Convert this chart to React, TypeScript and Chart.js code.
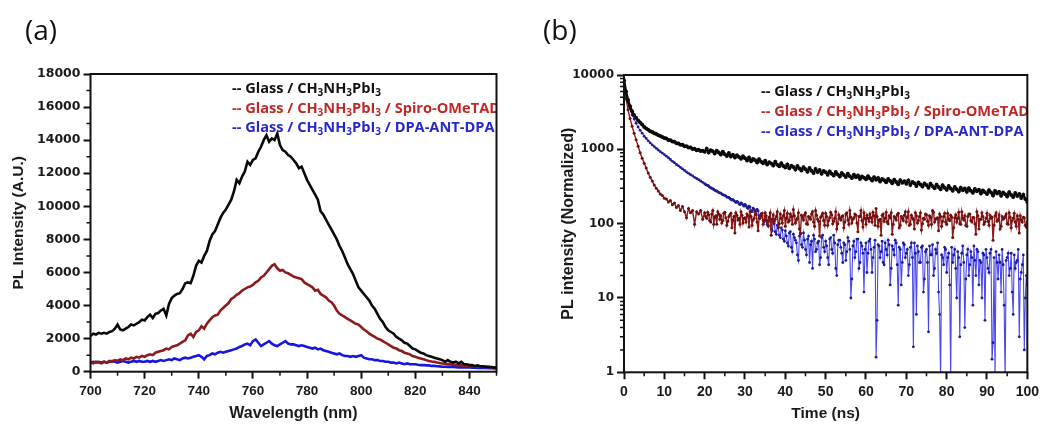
import React, { useEffect, useRef } from 'react';
import { Chart, registerables } from 'chart.js';

Chart.register(...registerables);

// ---------- Panel (a): steady-state PL ----------
const wavelengthNm: number[] = Array.from({ length: 151 }, (_, i) => 700 + i);

const plGlass: number[] = [
  2150, 2300, 2250, 2350, 2300, 2350, 2300, 2400, 2450, 2600,
  2850, 2550, 2500, 2600, 2700, 2850, 2800, 2900, 3000, 3150,
  3100, 3300, 3450, 3250, 3500, 3550, 3700, 3800, 3400, 4100,
  4450, 4600, 4700, 4750, 5000, 5350, 5400, 5350, 5800, 6400,
  6700, 6600, 7000, 7300, 7900, 8300, 8500, 8900, 9300, 9600,
  9800, 10100, 10400, 10900, 11600, 11400, 11800, 12100, 12700, 12500,
  12800, 12900, 13300, 13600, 14000, 14300, 13900, 14100, 14000, 14400,
  13700, 13400, 13300, 13100, 13000, 12800, 12600, 12300, 12400, 12000,
  11600, 11300, 11000, 10700, 10400, 9700, 9500, 9200, 8900, 8600,
  8300, 8000, 7600, 7300, 6900, 6500, 6200, 5900, 5500, 5100,
  4900, 4700, 4500, 4300, 4000, 3800, 3500, 3200, 3000, 2700,
  2500, 2400, 2300, 2100, 2000, 1900, 1750, 1700, 1550, 1400,
  1350, 1250, 1150, 1100, 1000, 950, 900, 850, 800, 750,
  700, 600, 700, 600, 550, 600, 500, 600, 450, 450,
  400, 400, 350, 380, 330, 320, 300, 300, 280, 260,
  250,
];

const plSpiro: number[] = [
  550, 500, 600, 550, 500, 600, 550, 650, 600, 700,
  650, 750, 700, 800, 750, 850, 800, 900, 850, 950,
  900, 1000, 1050, 1000, 1150, 1200, 1250, 1300, 1400, 1350,
  1500, 1550, 1600, 1700, 1800, 1900, 2200, 2300, 2100, 2400,
  2500, 2750, 2600, 2900, 3100, 3300, 3400, 3450, 3700, 3850,
  4000, 4150, 4400, 4500, 4650, 4750, 4900, 5000, 5100, 5150,
  5250, 5400, 5500, 5700, 5800, 6000, 6200, 6400, 6500, 6250,
  6100, 6150, 6000, 5950, 5850, 5750, 5700, 5650, 5600, 5400,
  5300, 5200, 5100, 4900, 4950, 4700, 4600, 4500, 4300, 4200,
  4000, 3700, 3500, 3400, 3300, 3200, 3100, 3000, 2900, 2850,
  2700, 2550, 2450, 2300, 2200, 2100, 2000, 1950, 1850, 1750,
  1650, 1550, 1450, 1400, 1300, 1250, 1150, 1100, 1050, 950,
  900, 850, 800, 750, 700, 650, 620, 600, 560, 530,
  500, 480, 460, 440, 420, 400, 390, 380, 370, 360,
  350, 340, 330, 320, 310, 300, 290, 280, 270, 260,
  250,
];

const plDpa: number[] = [
  550, 600, 550, 600, 550, 600, 550, 600, 650, 600,
  550, 600, 650, 600, 550, 600, 650, 600, 650, 600,
  600, 650, 600, 650, 600, 650, 700, 650, 700, 750,
  700, 800, 750, 700, 800, 850, 800, 850, 900, 950,
  1000, 900, 750, 950, 1000, 1100, 1050, 1150, 1200, 1150,
  1200, 1250, 1300, 1350, 1400, 1500, 1550, 1650, 1700, 1600,
  1850, 1950, 1750, 1550, 1650, 1750, 1850, 1700, 1600, 1550,
  1650, 1750, 1850, 1700, 1650, 1650, 1600, 1550, 1600, 1550,
  1500, 1450, 1400, 1450, 1350, 1400, 1300, 1250, 1200, 1150,
  1100, 1050, 1100, 1000, 950, 950, 900, 950, 900, 950,
  1000, 850, 800, 750, 750, 700, 700, 650, 650, 600,
  600, 550, 550, 500, 550, 500, 450, 500, 450, 450,
  450, 420, 400, 400, 380, 380, 350, 350, 330, 320,
  300, 300, 290, 280, 280, 270, 260, 260, 250, 250,
  250, 240, 240, 230, 230, 220, 220, 210, 210, 200,
  200,
];

const waveTicks = [700, 720, 740, 760, 780, 800, 820, 840];
const waveMinorTicks = [710, 730, 750, 770, 790, 810, 830, 850];
const plTicks = [0, 2000, 4000, 6000, 8000, 10000, 12000, 14000, 16000, 18000];
const plMinorTicks = [1000, 3000, 5000, 7000, 9000, 11000, 13000, 15000, 17000];

// ---------- Panel (b): time-resolved PL ----------
const timeNs: number[] = Array.from({ length: 201 }, (_, i) => i * 0.5);
const timeMidNs: number[] = Array.from({ length: 160 }, (_, i) => 20.25 + i * 0.5);

const trplGlass: number[] = [
  8500, 6000, 4600, 3800, 3250, 2900, 2650, 2450, 2300, 2150,
  2000, 1900, 1830, 1750, 1710, 1640, 1610, 1550, 1510, 1460,
  1420, 1400, 1340, 1320, 1270, 1260, 1210, 1200, 1150, 1150,
  1100, 1100, 1060, 1060, 1010, 1020, 975, 990, 950, 960,
  930, 1020, 905, 975, 940, 880, 960, 905, 850, 925,
  860, 815, 890, 800, 845, 775, 830, 790, 745, 805,
  760, 705, 775, 690, 740, 715, 665, 735, 680, 650,
  700, 625, 670, 645, 605, 680, 620, 590, 650, 595,
  570, 625, 555, 600, 580, 535, 595, 550, 520, 575,
  540, 500, 560, 515, 480, 545, 495, 525, 470, 510,
  490, 455, 505, 470, 445, 495, 460, 430, 480, 450,
  425, 470, 435, 410, 455, 420, 445, 400, 432, 415,
  395, 435, 405, 380, 420, 390, 410, 370, 400, 385,
  360, 398, 375, 350, 390, 362, 340, 385, 355, 372,
  345, 380, 330, 362, 350, 320, 358, 336, 315, 348,
  330, 305, 345, 318, 300, 335, 312, 290, 328, 305,
  285, 320, 298, 278, 312, 290, 270, 305, 282, 296,
  268, 300, 278, 260, 292, 272, 285, 255, 280, 265,
  250, 282, 262, 240, 275, 255, 268, 238, 262, 248,
  232, 265, 242, 228, 258, 236, 250, 222, 245, 215,
  195,
];

const trplSpiro: number[] = [
  7000, 4800, 3400, 2600, 2050, 1650, 1350, 1100, 900, 760,
  650, 560, 480, 420, 375, 330, 300, 275, 250, 240,
  220, 215, 195, 205, 180, 190, 165, 175, 150, 170,
  145, 120, 160, 140, 150, 98, 145, 135, 150, 115,
  140, 118, 132, 105, 150, 122, 98, 135, 128, 110,
  142, 95, 125, 138, 112, 75, 130, 118, 145, 102,
  120, 135, 90, 125, 112, 148, 105, 118, 130, 98,
  140, 108, 122, 70, 132, 115, 145, 100, 118, 128,
  92, 138, 110, 125, 155, 102, 118, 85, 130, 112,
  140, 98, 122, 135, 105, 150, 115, 68, 128, 110,
  138, 95, 120, 132, 108, 145, 100, 118, 125, 88,
  135, 112, 150, 102, 120, 130, 78, 125, 110, 140,
  98, 118, 135, 105, 128, 160, 92, 115, 130, 108,
  142, 100, 120, 72, 125, 112, 138, 95, 118, 130,
  105, 145, 98, 120, 85, 128, 110, 140, 100, 115,
  132, 95, 122, 150, 105, 118, 80, 125, 108, 138,
  98, 115, 130, 65, 120, 105, 142, 98, 118, 128,
  92, 135, 110, 122, 100, 145, 85, 115, 125, 105,
  138, 95, 118, 60, 128, 108, 132, 92, 115, 125,
  100, 140, 88, 118, 105, 128, 75, 112, 122, 95,
  105,
];

const trplSpiroMid: number[] = [
  125, 142, 110, 135, 98, 128, 145, 115, 102, 138,
  120, 108, 132, 88, 125, 140, 112, 98, 130, 118,
  105, 128, 145, 95, 118, 132, 80, 122, 138, 110,
  128, 95, 140, 115, 108, 125, 88, 135, 102, 150,
  118, 105, 135, 98, 128, 112, 140, 75, 122, 132,
  100, 125, 115, 145, 92, 130, 108, 122, 138, 95,
  125, 110, 142, 100, 118, 85, 132, 112, 128, 105,
  140, 98, 122, 115, 135, 102, 125, 150, 90, 118,
  130, 108, 120, 142, 95, 125, 112, 70, 135, 118,
  105, 128, 140, 98, 120, 132, 88, 125, 110, 145,
  122, 95, 130, 115, 140, 102, 125, 82, 118, 135,
  108, 128, 98, 142, 115, 120, 135, 92, 125, 105,
  138, 110, 122, 88, 132, 118, 100, 145, 112, 95,
  125, 135, 105, 120, 72, 128, 115, 140, 98, 118,
  108, 130, 122, 95, 140, 112, 85, 125, 118, 135,
  98, 122, 110, 138, 92, 115, 128, 105, 120, 90,
];

const trplDpa: number[] = [
  8000, 5500, 4200, 3500, 2900, 2550, 2250, 2000, 1800, 1650,
  1500, 1400, 1300, 1220, 1150, 1090, 1030, 980, 930, 890,
  850, 810, 770, 730, 690, 660, 625, 600, 570, 545,
  520, 495, 475, 455, 440, 420, 405, 390, 375, 360,
  345, 330, 322, 305, 295, 282, 275, 262, 258, 245,
  240, 228, 225, 212, 210, 198, 200, 185, 190, 178,
  182, 165, 172, 150, 162, 140, 155, 128, 135, 110,
  125, 98, 115, 85, 105, 78, 95, 70, 88, 62,
  80, 55, 75, 48, 72, 60, 38, 68, 52, 75,
  45, 62, 30, 58, 70, 42, 55, 28, 65, 48,
  58, 35, 62, 45, 70, 25, 52, 60, 40, 55,
  32, 65, 45, 18, 58, 42, 62, 30, 50, 12,
  55, 40, 62, 22, 48, 1.6, 52, 35, 58, 28,
  45, 60, 15, 50, 38, 55, 8, 45, 30, 52,
  40, 20, 48, 35, 55, 6, 42, 30, 50, 18,
  45, 3.5, 38, 52, 25, 40, 12, 0.8, 35, 48,
  22, 40, 0.8, 30, 45, 10, 35, 28, 50, 4,
  38, 20, 42, 8, 32, 45, 15, 30, 40, 5,
  35, 22, 45, 2.5, 0.8, 30, 38, 12, 28, 0.8,
  35, 20, 40, 6, 25, 32, 3, 22, 38, 10,
  15,
];

const trplDpaMid: number[] = [
  335, 326, 310, 298, 288, 276, 268, 260, 250, 242,
  235, 226, 218, 208, 204, 192, 195, 180, 186, 172,
  175, 160, 168, 145, 155, 135, 148, 118, 128, 105,
  112, 92, 108, 80, 100, 72, 90, 65, 82, 58,
  68, 50, 78, 42, 65, 55, 32, 72, 48, 60,
  38, 68, 52, 25, 62, 45, 58, 35, 70, 42,
  50, 28, 65, 40, 55, 20, 60, 48, 30, 52,
  42, 58, 10, 50, 35, 62, 25, 55, 40, 45,
  22, 58, 45, 35, 60, 5, 50, 42, 30, 55,
  38, 52, 25, 45, 60, 28, 48, 15, 55, 35,
  45, 28, 55, 2.2, 40, 50, 30, 48, 12, 42,
  30, 50, 38, 20, 45, 55, 6, 38, 28, 45,
  35, 15, 48, 38, 25, 42, 3, 40, 30, 18,
  45, 28, 35, 50, 20, 42, 32, 10, 38, 45,
  25, 40, 1.5, 35, 42, 18, 30, 45, 8, 32,
  40, 25, 12, 38, 30, 45, 18, 28, 2, 20,
];

const timeTicks = [0, 10, 20, 30, 40, 50, 60, 70, 80, 90, 100];
const timeMinorTicks = [5, 15, 25, 35, 45, 55, 65, 75, 85, 95];
const trplTicks = [1, 10, 100, 1000, 10000];
const trplMinorTicks = [
  2, 3, 4, 5, 6, 7, 8, 9,
  20, 30, 40, 50, 60, 70, 80, 90,
  200, 300, 400, 500, 600, 700, 800, 900,
  2000, 3000, 4000, 5000, 6000, 7000, 8000, 9000,
];

const legendTexts = [
  '-- Glass / CH_3NH_3PbI_3',
  '-- Glass / CH_3NH_3PbI_3 / Spiro-OMeTAD',
  '-- Glass / CH_3NH_3PbI_3 / DPA-ANT-DPA',
];
const legendColors = ['#111111', '#c02828', '#2828c8'];

// ---------- helpers ----------
function drawSubText(ctx: CanvasRenderingContext2D, text: string, x: number, y: number, color: string, size: number) {
  const parts = text.split(/_(\d)/);
  let cx = x;
  ctx.fillStyle = color;
  ctx.textBaseline = 'alphabetic';
  ctx.textAlign = 'left';
  parts.forEach((p, i) => {
    if (i % 2 === 0) {
      ctx.font = `bold ${size}px "Open Sans"`;
      ctx.fillText(p, cx, y);
    } else {
      ctx.font = `bold ${Math.round(size * 0.68)}px "Open Sans"`;
      ctx.fillText(p, cx, y + size * 0.22);
    }
    cx += ctx.measureText(p).width;
  });
}

function mergeSeries(t1: number[], v1: number[], t2: number[], v2: number[]) {
  const pts = t1.map((x, i) => ({ x, y: v1[i] }));
  t2.forEach((x, i) => pts.push({ x, y: v2[i] }));
  return pts.sort((a, b) => a.x - b.x);
}

const decorPlugin = {
  id: 'decor',
  beforeDraw(chart: any) {
    const { ctx, width, height } = chart;
    ctx.save();
    ctx.fillStyle = '#ffffff';
    ctx.fillRect(0, 0, width, height);
    ctx.restore();
  },
  afterDatasetsDraw(chart: any, _args: any, opts: any) {
    const { ctx, chartArea: ca, scales } = chart;
    ctx.save();
    ctx.beginPath();
    ctx.rect(ca.left, ca.top, ca.right - ca.left, ca.bottom - ca.top);
    ctx.clip();
    legendTexts.forEach((t, i) => {
      drawSubText(ctx, t, opts.legendX, opts.legendY + i * opts.legendGap, legendColors[i], 14.6);
    });
    ctx.restore();

    ctx.save();
    ctx.strokeStyle = '#111111';
    ctx.lineWidth = 2;
    ctx.strokeRect(ca.left, ca.top, ca.right - ca.left, ca.bottom - ca.top);
    ctx.lineWidth = 1.5;
    ctx.beginPath();
    (opts.minorX as number[]).forEach((v) => {
      const px = scales.x.getPixelForValue(v);
      ctx.moveTo(px, ca.bottom);
      ctx.lineTo(px, ca.bottom + opts.minorLen);
    });
    (opts.minorY as number[]).forEach((v) => {
      const py = scales.y.getPixelForValue(v);
      ctx.moveTo(ca.left, py);
      ctx.lineTo(ca.left - opts.minorLen, py);
    });
    ctx.stroke();

    ctx.fillStyle = '#111111';
    ctx.font = '28px "Open Sans"';
    ctx.textAlign = 'left';
    ctx.textBaseline = 'alphabetic';
    ctx.fillText(opts.panel, opts.panelX, opts.panelY);
    ctx.restore();
  },
};

function axisGrid() {
  return {
    display: true,
    drawOnChartArea: false,
    drawTicks: true,
    tickLength: 7,
    tickWidth: 2,
    tickColor: '#111111',
    color: '#111111',
  };
}

function makePanelA(canvas: HTMLCanvasElement) {
  return new Chart(canvas, {
    type: 'line',
    data: {
      datasets: [
        { data: wavelengthNm.map((x, i) => ({ x, y: plGlass[i] })), borderColor: '#0a0a0a', borderWidth: 2.6, pointRadius: 0, tension: 0 },
        { data: wavelengthNm.map((x, i) => ({ x, y: plSpiro[i] })), borderColor: '#8e1b1b', borderWidth: 2.6, pointRadius: 0, tension: 0 },
        { data: wavelengthNm.map((x, i) => ({ x, y: plDpa[i] })), borderColor: '#1616e0', borderWidth: 2.6, pointRadius: 0, tension: 0 },
      ],
    },
    options: {
      responsive: false,
      animation: false,
      events: [],
      layout: { padding: { top: 74, right: 23.5, left: 0, bottom: 0 } },
      plugins: {
        legend: { display: false },
        tooltip: { enabled: false },
        decor: {
          legendX: 232, legendY: 93, legendGap: 19.5,
          minorX: waveMinorTicks, minorY: plMinorTicks, minorLen: 4,
          panel: '(a)', panelX: 25, panelY: 40,
        },
      } as any,
      scales: {
        x: {
          type: 'linear', min: 700, max: 850,
          afterBuildTicks: (s: any) => { s.ticks = waveTicks.map((v) => ({ value: v })); },
          afterFit: (s: any) => { s.height = 55.3; },
          grid: axisGrid(),
          border: { display: false },
          ticks: { color: '#1a1a1a', padding: 4, autoSkip: false, maxRotation: 0, font: { family: 'Liberation Sans', weight: 'bold', size: 13.5 }, callback: (v: any) => String(v) },
          title: { display: true, text: 'Wavelength (nm)', color: '#1a1a1a', padding: { top: 0, bottom: 4 }, font: { family: 'Liberation Sans', weight: 'bold', size: 16 } },
        },
        y: {
          type: 'linear', min: 0, max: 18000,
          afterBuildTicks: (s: any) => { s.ticks = plTicks.map((v) => ({ value: v })); },
          afterFit: (s: any) => { s.width = 90.5; },
          grid: axisGrid(),
          border: { display: false },
          ticks: { color: '#1a1a1a', padding: 3, autoSkip: false, font: { family: 'DejaVu Sans', weight: 'bold', size: 12.5 }, callback: (v: any) => String(v) },
          title: { display: true, text: 'PL Intensity (A.U.)', color: '#1a1a1a', padding: { top: 9, bottom: 0 }, font: { family: 'Liberation Sans', weight: 'bold', size: 15.5 } },
        },
      },
    } as any,
    plugins: [decorPlugin],
  });
}

function makePanelB(canvas: HTMLCanvasElement) {
  const ds = (data: { x: number; y: number }[], line: string, pt: string, w: number, r: number) => ({
    data,
    borderColor: line,
    backgroundColor: pt,
    pointBackgroundColor: pt,
    pointBorderColor: pt,
    borderWidth: w,
    pointRadius: r,
    pointBorderWidth: 0,
    tension: 0,
  });
  return new Chart(canvas, {
    type: 'line',
    data: {
      datasets: [
        ds(timeNs.map((x, i) => ({ x, y: trplGlass[i] })), '#0a0a0a', '#0a0a0a', 2.4, 2),
        ds(mergeSeries(timeNs, trplSpiro, timeMidNs, trplSpiroMid), '#8e1b1b', '#6e1010', 1.4, 1.5),
        ds(mergeSeries(timeNs, trplDpa, timeMidNs, trplDpaMid), 'rgba(40,40,235,0.85)', '#1c1c90', 1.1, 1.4),
      ],
    },
    options: {
      responsive: false,
      animation: false,
      events: [],
      layout: { padding: { top: 75, right: 12, left: 0, bottom: 0 } },
      plugins: {
        legend: { display: false },
        tooltip: { enabled: false },
        decor: {
          legendX: 241, legendY: 96, legendGap: 20,
          minorX: timeMinorTicks, minorY: trplMinorTicks, minorLen: 4,
          panel: '(b)', panelX: 23, panelY: 40,
        },
      } as any,
      scales: {
        x: {
          type: 'linear', min: 0, max: 100,
          afterBuildTicks: (s: any) => { s.ticks = timeTicks.map((v) => ({ value: v })); },
          afterFit: (s: any) => { s.height = 54.7; },
          grid: axisGrid(),
          border: { display: false },
          ticks: { color: '#1a1a1a', padding: 4, autoSkip: false, maxRotation: 0, font: { family: 'Liberation Sans', weight: 'bold', size: 14 }, callback: (v: any) => String(v) },
          title: { display: true, text: 'Time (ns)', color: '#1a1a1a', padding: { top: 0, bottom: 4 }, font: { family: 'Liberation Sans', weight: 'bold', size: 15.5 } },
        },
        y: {
          type: 'logarithmic', min: 1, max: 10000,
          afterBuildTicks: (s: any) => { s.ticks = trplTicks.map((v) => ({ value: v })); },
          afterFit: (s: any) => { s.width = 104; },
          grid: axisGrid(),
          border: { display: false },
          ticks: { color: '#1a1a1a', padding: 3, autoSkip: false, font: { family: 'DejaVu Sans', weight: 'bold', size: 12 }, callback: (v: any) => String(v) },
          title: { display: true, text: 'PL intensity (Normalized)', color: '#1a1a1a', padding: { top: 39, bottom: 0 }, font: { family: 'Liberation Sans', weight: 'bold', size: 16 } },
        },
      },
    } as any,
    plugins: [decorPlugin],
  });
}

export default function App() {
  const refA = useRef<HTMLCanvasElement | null>(null);
  const refB = useRef<HTMLCanvasElement | null>(null);

  useEffect(() => {
    const a = refA.current ? makePanelA(refA.current) : null;
    const b = refB.current ? makePanelB(refB.current) : null;
    return () => {
      a?.destroy();
      b?.destroy();
    };
  }, []);

  return (
    <div style={{ position: 'absolute', left: 0, top: 0, width: 1043, height: 427, background: '#fff', overflow: 'hidden' }}>
      <canvas ref={refA} width={520} height={427} style={{ position: 'absolute', left: 0, top: 0, width: 520, height: 427 }} />
      <canvas ref={refB} width={523} height={427} style={{ position: 'absolute', left: 520, top: 0, width: 523, height: 427 }} />
    </div>
  );
}
